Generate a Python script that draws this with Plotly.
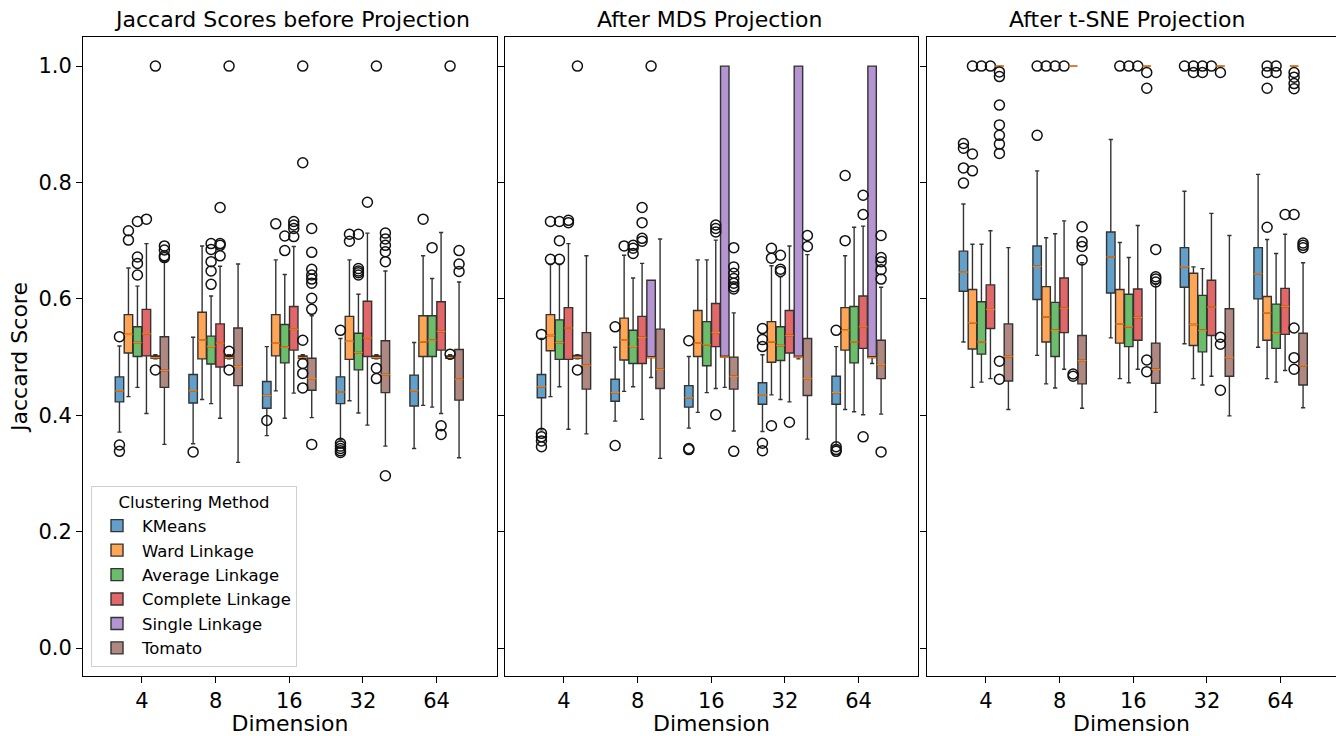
import plotly.graph_objects as go
from plotly.subplots import make_subplots

DIMENSIONS = ["4", "8", "16", "32", "64"]
METHODS = ["KMeans", "Ward Linkage", "Average Linkage", "Complete Linkage",
           "Single Linkage", "Tomato"]
PANEL_TITLES = ["Jaccard Scores before Projection", "After MDS Projection",
                "After t-SNE Projection"]

# ---- Jaccard scores before projection (rows: method, cols: dimension) ----
BEFORE_Q1 = [[.423, .421, .412, .420, .416], [.507, .497, .502, .496, .501],
             [.501, .488, .490, .478, .501], [.502, .483, .512, .501, .512],
             [.498, .498, .498, .498, .498], [.448, .451, .443, .439, .426]]
BEFORE_MED = [[.442, .442, .434, .440, .442], [.539, .529, .524, .527, .526],
              [.525, .518, .517, .508, .529], [.540, .524, .548, .533, .544],
              [.499, .499, .499, .499, .499], [.477, .484, .463, .470, .462]]
BEFORE_Q3 = [[.466, .470, .458, .466, .469], [.573, .577, .573, .570, .571],
             [.552, .536, .556, .541, .571], [.582, .557, .587, .596, .595],
             [.502, .502, .502, .502, .502], [.535, .550, .498, .528, .513]]
BEFORE_LO = [[.371, .351, .365, .358, .343], [.432, .427, .442, .425, .417],
             [.448, .420, .395, .404, .414], [.403, .395, .438, .383, .403],
             [.497, .497, .497, .497, .497], [.350, .319, .396, .347, .327]]
BEFORE_HI = [[.519, .534, .518, .532, .525], [.653, .691, .667, .667, .674],
             [.622, .605, .642, .608, .635], [.695, .656, .690, .713, .714],
             [.504, .504, .504, .504, .504], [.664, .660, .571, .648, .629]]
BEFORE_OUT = [
    [[.535, .349, .338], [.337], [.391], [.546, .352, .347, .343, .339, .336], []],
    [[.717, .701], [], [.729], [.711, .699], [.737]],
    [[.733, .672, .661, .641], [.695, .685, .664, .648, .625], [.708, .683],
     [.711, .652, .648, .645, .641], [.688]],
    [[.737], [.757, .695, .692, .674], [.733, .727, .721, .707], [.766], [.382, .367]],
    [[1.0, .478], [1.0, .510, .478], [1.0, .834, .529, .489, .472, .447],
     [1.0, .481, .463], [1.0, .505]],
    [[.691, .684, .674, .671], [],
     [.721, .680, .651, .641, .634, .627, .601, .582, .350],
     [.713, .703, .692, .681, .664, .296], [.683, .660, .647]],
]

# ---- after MDS projection ----
MDS_Q1 = [[.430, .424, .414, .419, .419], [.511, .495, .501, .491, .512],
          [.496, .489, .485, .494, .490], [.496, .489, .518, .507, .515],
          [.498, .499, .500, .500, .499], [.445, .446, .445, .434, .463]]
MDS_MED = [[.449, .439, .430, .435, .439], [.537, .529, .524, .526, .546],
           [.525, .518, .521, .520, .526], [.550, .534, .542, .537, .552],
           [.499, .499, .500, .500, .499], [.486, .479, .467, .463, .487]]
MDS_Q3 = [[.470, .462, .451, .456, .467], [.573, .567, .580, .561, .585],
          [.564, .546, .561, .552, .587], [.585, .570, .592, .580, .605],
          [.503, .632, 1.0, 1.0, 1.0], [.542, .548, .500, .532, .529]]
MDS_LO = [[.375, .390, .378, .372, .349], [.432, .441, .405, .435, .410],
          [.449, .449, .439, .427, .406], [.376, .393, .446, .423, .401],
          [.497, .465, .448, .497, .489], [.368, .326, .373, .359, .402]]
MDS_HI = [[.532, .517, .501, .504, .518], [.659, .675, .667, .657, .674],
          [.659, .636, .667, .638, .723], [.695, .661, .701, .691, .725],
          [.504, .632, 1.0, 1.0, 1.0], [.674, .703, .576, .676, .620]]
MDS_OUT = [
    [[.539, .369, .363, .356, .346], [.552, .348], [.528, .343, .341],
     [.549, .530, .518, .352, .339], [.546, .346, .341, .338]],
    [[.733, .668], [.691], [], [.687, .670, .382], [.812, .700]],
    [[.733, .700, .668], [.692, .687, .678], [], [.675, .651, .647], []],
    [[.735, .731], [.757, .731, .704, .699], [.727, .721, .715, .401], [.388],
     [.778, .745, .363]],
    [[1.0, .478], [1.0], [], [], []],
    [[], [], [.688, .655, .644, .635, .627, .621, .617, .338], [.709, .690],
     [.709, .671, .664, .650, .634, .337]],
]

# ---- after t-SNE projection ----
TSNE_Q1 = [[.613, .599, .610, .620, .600], [.514, .526, .524, .520, .529],
           [.505, .501, .518, .509, .515], [.549, .542, .529, .537, .539],
           [1.0, 1.0, 1.0, 1.0, 1.0], [.459, .454, .455, .467, .452]]
TSNE_MED = [[.646, .656, .672, .655, .643], [.559, .569, .557, .556, .576],
            [.526, .546, .552, .546, .541], [.582, .584, .568, .586, .587],
            [1.0, 1.0, 1.0, 1.0, 1.0], [.501, .494, .479, .499, .485]]
TSNE_Q3 = [[.682, .691, .715, .688, .688], [.616, .621, .616, .644, .604],
           [.595, .594, .608, .606, .591], [.624, .636, .617, .632, .618],
           [1.0, 1.0, 1.0, 1.0, 1.0], [.557, .537, .524, .583, .541]]
TSNE_LO = [[.526, .503, .533, .523, .517], [.448, .454, .463, .463, .463],
           [.457, .447, .456, .452, .457], [.463, .479, .479, .467, .477],
           [1.0, 1.0, 1.0, 1.0, 1.0], [.410, .412, .405, .399, .413]]
TSNE_HI = [[.763, .820, .874, .785, .814], [.694, .705, .697, .655, .702],
           [.694, .712, .671, .652, .678], [.717, .734, .726, .747, .711],
           [1.0, 1.0, 1.0, 1.0, 1.0], [.688, .662, .625, .709, .662]]
TSNE_OUT = [
    [[.867, .859, .825, .799], [1.0, .881], [], [1.0], []],
    [[1.0, .849, .820], [1.0], [1.0], [1.0, .989], [1.0, .989, .962, .723]],
    [[1.0], [1.0], [1.0], [1.0, .989], [1.0, .989]],
    [[1.0], [1.0], [1.0], [1.0], [.745]],
    [[.990, .982, .933, .899, .881, .866, .850, .493, .462], [.471, .467],
     [.989, .962, .495, .475], [.989, .534, .522, .443],
     [.989, .981, .970, .961, .745, .550, .499, .479]],
    [[], [.724, .698, .690, .667], [.685, .638, .634, .629], [], [.696, .692, .688]],
]

PANELS = [
    (BEFORE_Q1, BEFORE_MED, BEFORE_Q3, BEFORE_LO, BEFORE_HI, BEFORE_OUT),
    (MDS_Q1, MDS_MED, MDS_Q3, MDS_LO, MDS_HI, MDS_OUT),
    (TSNE_Q1, TSNE_MED, TSNE_Q3, TSNE_LO, TSNE_HI, TSNE_OUT),
]

# styling
FILLS = ["rgba(31,119,180,0.7)", "rgba(255,127,14,0.7)", "rgba(44,160,44,0.7)",
         "rgba(214,39,40,0.7)", "rgba(148,103,189,0.7)", "rgba(140,86,75,0.7)"]
EDGE = "#333333"
MEDIAN_COLOR = "#ff7f0e"
FONT = "DejaVu Sans"
SLOT = 0.122
OFFSETS = [(i - 2.5) * SLOT for i in range(6)]
BOX_W = 0.115

fig = make_subplots(rows=1, cols=3, subplot_titles=PANEL_TITLES,
                    horizontal_spacing=0.0)

for p, (q1s, meds, q3s, los, his, outs) in enumerate(PANELS):
    col = p + 1
    for m, name in enumerate(METHODS):
        xs = [d + OFFSETS[m] for d in range(len(DIMENSIONS))]
        fig.add_trace(go.Box(
            x=xs, q1=q1s[m], median=meds[m], q3=q3s[m],
            lowerfence=los[m], upperfence=his[m],
            width=BOX_W, whiskerwidth=0.5, boxpoints=False,
            fillcolor=FILLS[m], line=dict(color=EDGE, width=1.4),
            name=name, legendgroup=name, showlegend=(p == 0),
            hoverinfo="skip"), row=1, col=col)
        # median bars
        mx, my = [], []
        for d, x in enumerate(xs):
            mx += [x - BOX_W / 2, x + BOX_W / 2, None]
            my += [meds[m][d], meds[m][d], None]
        fig.add_trace(go.Scatter(x=mx, y=my, mode="lines",
                                 line=dict(color=MEDIAN_COLOR, width=1.4),
                                 showlegend=False, hoverinfo="skip"),
                      row=1, col=col)
        # fliers
        fx, fy = [], []
        for d, x in enumerate(xs):
            for v in outs[m][d]:
                fx.append(x)
                fy.append(v)
        if fx:
            fig.add_trace(go.Scatter(x=fx, y=fy, mode="markers",
                                     marker=dict(symbol="circle-open", size=10,
                                                 color="#111111",
                                                 line=dict(width=1.5)),
                                     showlegend=False, hoverinfo="skip"),
                          row=1, col=col)

W, H = 1336, 736
ML, MR, MT, MB = 83, 0, 37, 60
pw = W - ML - MR
domains = [[0, (497 - ML) / pw], [(505 - ML) / pw, (918 - ML) / pw],
           [(927 - ML) / pw, 1.0]]
xranges = [[-0.8, 4.82], [-0.8, 4.806], [-0.8, 4.752]]

for i in range(3):
    xa = "xaxis" if i == 0 else f"xaxis{i + 1}"
    ya = "yaxis" if i == 0 else f"yaxis{i + 1}"
    fig.layout[xa].update(
        domain=domains[i], range=xranges[i], tickmode="array",
        tickvals=list(range(len(DIMENSIONS))), ticktext=DIMENSIONS,
        ticks="outside", ticklen=6, tickcolor="black", showgrid=False,
        zeroline=False, showline=True, linecolor="black", linewidth=1,
        mirror=True, tickfont=dict(family=FONT, size=21, color="black"),
        title=dict(text="Dimension", standoff=4,
                   font=dict(family=FONT, size=22, color="black")))
    fig.layout[ya].update(
        range=[-0.048, 1.05], tickmode="array",
        tickvals=[0, 0.2, 0.4, 0.6, 0.8, 1.0],
        ticktext=["0.0", "0.2", "0.4", "0.6", "0.8", "1.0"],
        ticks="outside", ticklen=6, tickcolor="black", showgrid=False,
        zeroline=False, showline=True, linecolor="black", linewidth=1,
        mirror=(i < 2), showticklabels=(i == 0),
        tickfont=dict(family=FONT, size=21, color="black"))

fig.layout.yaxis.title = dict(text="Jaccard Score", standoff=4,
                              font=dict(family=FONT, size=22, color="black"))

for ann in fig.layout.annotations:
    ann.font = dict(family=FONT, size=22, color="black")
    ann.yshift = 3

fig.update_layout(
    width=W, height=H,
    margin=dict(l=ML, r=MR, t=MT, b=MB),
    paper_bgcolor="white", plot_bgcolor="white",
    boxmode="overlay",
    font=dict(family=FONT, color="black"),
    legend=dict(
        x=(91 - ML) / pw, y=(676 - 667) / (H - MT - MB),
        xanchor="left", yanchor="bottom",
        bgcolor="white", bordercolor="#d0d0d0", borderwidth=1,
        font=dict(family=FONT, size=16.5, color="black"),
        title=dict(text="Clustering Method", side="top center",
                   font=dict(family=FONT, size=16.5, color="black")),
        itemwidth=40, tracegroupgap=0,
    ),
)

fig.write_html("out.html")
